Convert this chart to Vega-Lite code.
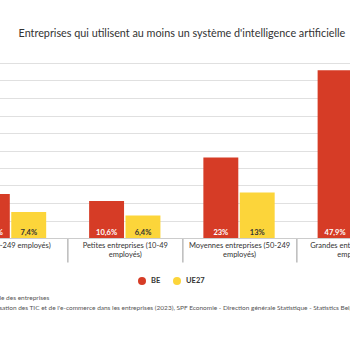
{
  "$schema": "https://vega.github.io/schema/vega-lite/v6.json",
  "width": 457,
  "height": 175,
  "autosize": {"type": "none"},
  "padding": {"left": -46.6, "top": 63, "right": -60.4, "bottom": 112},
  "background": "white",
  "title": {
    "text": "Entreprises qui utilisent au moins un système d'intelligence artificielle",
    "anchor": "middle",
    "font": "Lato",
    "fontSize": 10.8,
    "fontWeight": "normal",
    "color": "#333333",
    "offset": 24
  },
  "data": {
    "values": [
      {"categorie": "PME (10-249 employés)", "serie": "BE", "valeur": 12.6},
      {"categorie": "PME (10-249 employés)", "serie": "UE27", "valeur": 7.4},
      {"categorie": "Petites entreprises (10-49 employés)", "serie": "BE", "valeur": 10.6},
      {"categorie": "Petites entreprises (10-49 employés)", "serie": "UE27", "valeur": 6.4},
      {"categorie": "Moyennes entreprises (50-249 employés)", "serie": "BE", "valeur": 23},
      {"categorie": "Moyennes entreprises (50-249 employés)", "serie": "UE27", "valeur": 13},
      {"categorie": "Grandes entreprises (250+ employés)", "serie": "BE", "valeur": 47.9},
      {"categorie": "Grandes entreprises (250+ employés)", "serie": "UE27", "valeur": 30.4}
    ]
  },
  "transform": [
    {"calculate": "replace(format(datum.valeur, '.1~f'), '.', ',') + '%'", "as": "etiquette"}
  ],
  "encoding": {
    "x": {
      "field": "categorie",
      "type": "nominal",
      "sort": null,
      "scale": {"paddingInner": 0, "paddingOuter": 0},
      "axis": {
        "tickBand": "extent",
        "tickSize": 24,
        "tickColor": "#999999",
        "domainColor": "#cccccc",
        "labelPadding": -20.5,
        "labelAngle": 0,
        "labelFont": "Lato",
        "labelFontSize": 7.5,
        "labelColor": "#333333",
        "labelLineHeight": 9,
        "labelLimit": 200,
        "labelExpr": "length(datum.label) > 24 ? split(replace(datum.label, ' employés)', '|employés)'), '|') : datum.label",
        "title": [
          "En % de l'ensemble des entreprises",
          "Enquête sur l'utilisation des TIC et de l'e-commerce dans les entreprises (2023), SPF Economie - Direction générale Statistique - Statistics Belgium"
        ],
        "titleAnchor": "start",
        "titleAlign": "left",
        "titleX": -4,
        "titleFont": "Lato",
        "titleFontSize": 6.5,
        "titleFontWeight": "normal",
        "titleColor": "#555555",
        "titleLineHeight": 10,
        "titlePadding": 32,
        "titleLimit": 1000
      }
    },
    "xOffset": {
      "field": "serie",
      "type": "nominal",
      "scale": {"paddingInner": 0.04, "paddingOuter": 0.59}
    },
    "y": {
      "field": "valeur",
      "type": "quantitative",
      "scale": {"domain": [0, 50], "nice": false},
      "axis": {
        "tickCount": 10,
        "grid": true,
        "gridColor": "#e0e0e0",
        "gridWidth": 1,
        "labels": false,
        "ticks": false,
        "domain": false,
        "title": null
      }
    }
  },
  "layer": [
    {
      "mark": {"type": "bar"},
      "encoding": {
        "color": {
          "field": "serie",
          "type": "nominal",
          "scale": {"domain": ["BE", "UE27"], "range": ["#d63c26", "#fcd53a"]},
          "legend": {
            "orient": "none",
            "legendX": 184.6,
            "legendY": 214,
            "direction": "horizontal",
            "title": null,
            "symbolType": "circle",
            "symbolSize": 64,
            "symbolStrokeWidth": 0,
            "labelFont": "Lato",
            "labelFontSize": 7.5,
            "labelFontWeight": "bold",
            "labelColor": "#333333",
            "columnPadding": 12,
            "labelOffset": 5
          }
        }
      }
    },
    {
      "mark": {"type": "text", "baseline": "bottom", "dy": -1.5, "font": "Lato", "fontSize": 7.5, "fontWeight": "bold"},
      "encoding": {
        "y": {"datum": 0, "type": "quantitative"},
        "text": {"field": "etiquette"},
        "color": {"condition": {"test": "datum.serie === 'BE'", "value": "#ffffff"}, "value": "#333333"}
      }
    }
  ],
  "config": {"view": {"stroke": null}}
}
